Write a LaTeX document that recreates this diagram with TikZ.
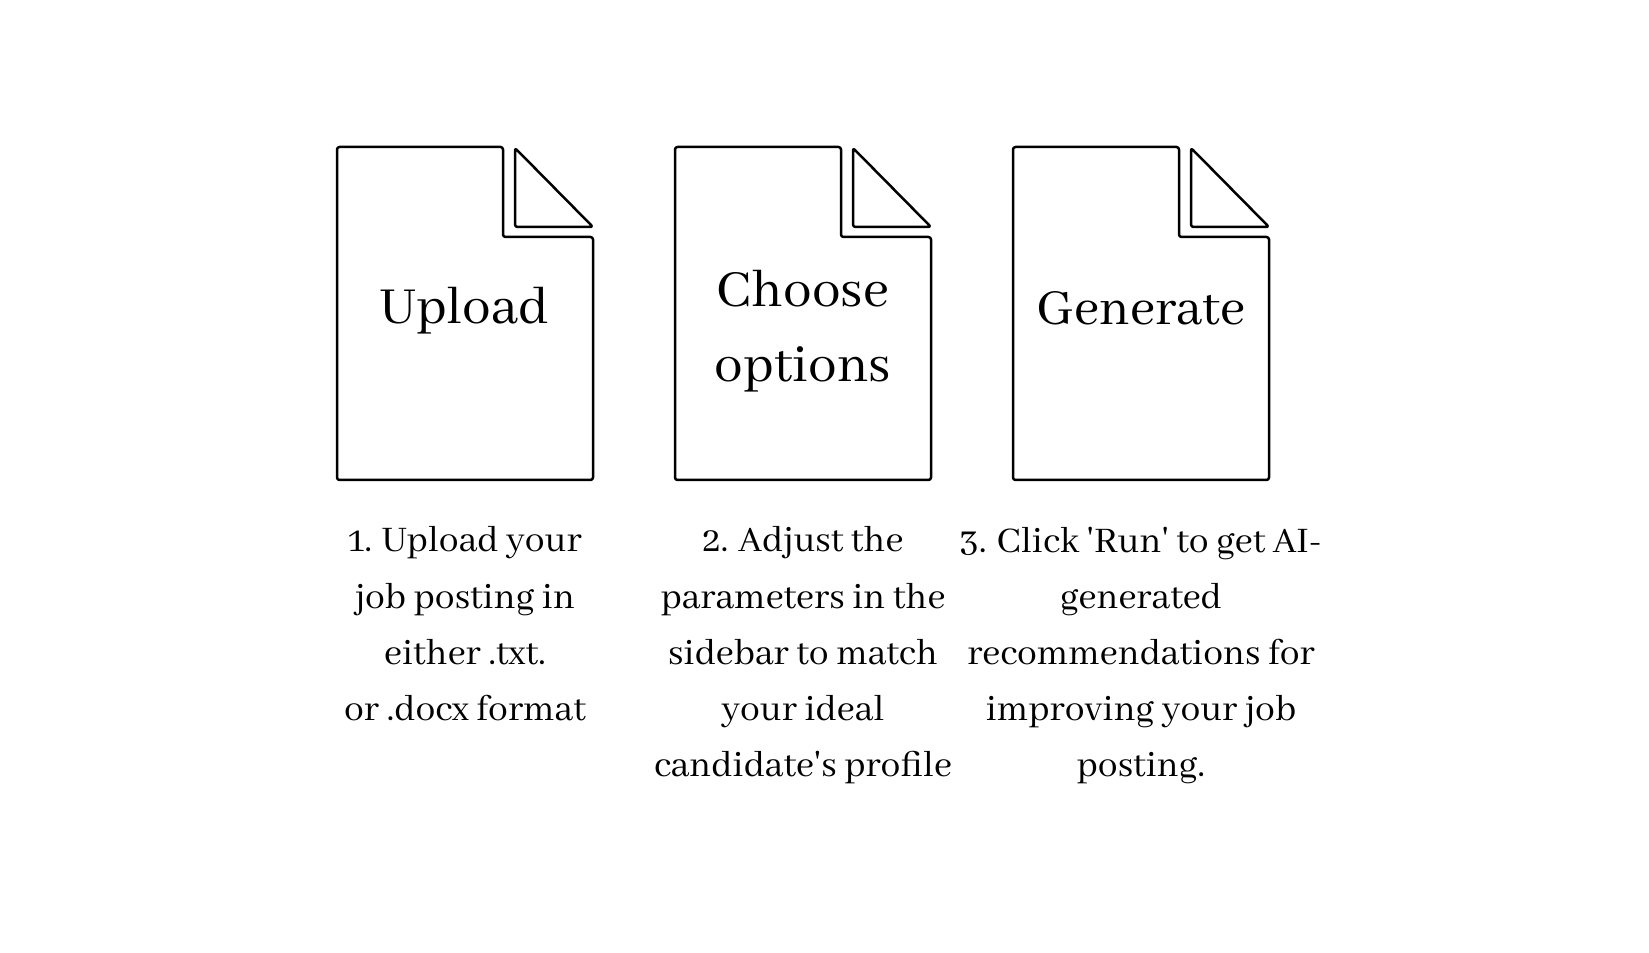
\documentclass[tikz,border=0pt]{standalone}
\usepackage{fontspec}
\newfontfamily\sheetfont{Abhaya Libre}
\usetikzlibrary{calc}
\tikzset{
	sheetline/.style={line width=0.05cm, rounded corners=0.05cm, line join=round},
	titletext/.style={font=\sheetfont\fontsize{32.5}{43}\selectfont, align=center},
	steptext/.style={font=\sheetfont\fontsize{22.5}{31.9}\selectfont, align=center, anchor=north, inner sep=0}
}
% #1 = left edge of the sheet
\def\pagesheet(#1){
	\draw[sheetline] (#1, 16.10) -- ($(#1, 16.10)+(3.32, 0)$) -- ($(#1, 14.30)+(3.32, 0)$) -- ($(#1, 14.30)+(5.12, 0)$) -- ($(#1, 9.44)+(5.12, 0)$) -- (#1, 9.44) -- cycle;
	\draw[sheetline] ($(#1, 16.08)+(3.56, 0)$) -- ($(#1, 14.50)+(3.56, 0)$) -- ($(#1, 14.50)+(5.12, 0)$) -- cycle;
}

\begin{document}
\begin{tikzpicture}
	%%%%% START %%%%%
	\useasboundingbox (0, 0) rectangle (32.98, 19.04);

	\pagesheet(6.74)
	\pagesheet(13.50)
	\pagesheet(20.26)

	\node[titletext] (upload) at (9.30, 12.82) {Upload};
	\node[titletext] (options) at (16.06, 12.42) {Choose\\options};
	\node[titletext, font=\sheetfont\fontsize{31.5}{43}\selectfont] (generate) at (22.82, 12.87) {Generate};

	\node[steptext] (stepone) at (9.30, 8.51) {1. Upload your\\job posting in\\either .txt.\\or .docx format};
	\node[steptext] (steptwo) at (16.06, 8.51) {2. Adjust the\\parameters in the\\sidebar to match\\your ideal\\candidate's profile};
	\node[steptext] (stepthree) at (22.82, 8.51) {3. Click 'Run' to get AI-\\generated\\recommendations for\\improving your job\\posting.};
	%%%%% END %%%%%
\end{tikzpicture}
\end{document}
